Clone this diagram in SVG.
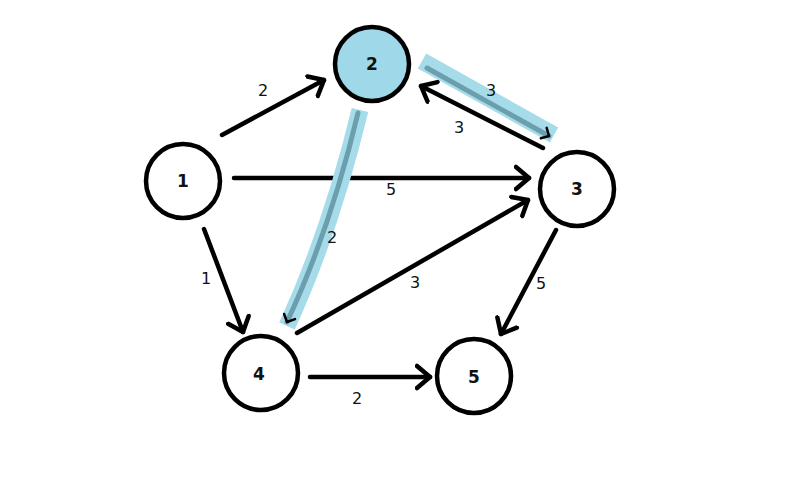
<svg xmlns="http://www.w3.org/2000/svg" width="800" height="500" viewBox="0 0 800 500">
<style>
.node{fill:#fff;stroke:#000;stroke-width:4.5}
.hl{fill:#9fd8e8}
.edge{fill:none;stroke:#000;stroke-width:4.5;stroke-linecap:round}
.band{fill:none;stroke:#a6dbea;stroke-width:17;stroke-linecap:butt}
.core{fill:none;stroke:#6c9fae;stroke-width:5;stroke-linecap:round}
.nl{font-family:"DejaVu Sans",sans-serif;font-size:17px;font-weight:bold;fill:#111;text-anchor:middle}
.el{font-family:"DejaVu Sans",sans-serif;font-size:16px;fill:#111;text-anchor:middle}
</style>
<defs>
<marker id="ah" markerUnits="userSpaceOnUse" markerWidth="30" markerHeight="30" refX="15" refY="15" orient="auto" viewBox="0 0 30 30">
<path d="M2 4 L15 15 L2 26" fill="none" stroke="#000" stroke-width="4.5" stroke-linecap="round" stroke-linejoin="round"/>
</marker>
<marker id="ahs" markerUnits="userSpaceOnUse" markerWidth="20" markerHeight="20" refX="10" refY="10" orient="auto" viewBox="0 0 20 20">
<path d="M4 4 L10 10 L4 16" fill="none" stroke="#000" stroke-width="2.5" stroke-linecap="round" stroke-linejoin="round"/>
</marker>
</defs>
<rect width="800" height="500" fill="#fff"/>
<g id="connectors">
<line class="edge" x1="222" y1="135" x2="324" y2="80" marker-end="url(#ah)"/>
<line class="edge" x1="234" y1="178" x2="529" y2="178" marker-end="url(#ah)"/>
<line class="edge" x1="204" y1="229" x2="243" y2="332" marker-end="url(#ah)"/>
<line class="edge" x1="543" y1="148" x2="421" y2="86" marker-end="url(#ah)"/>
<line class="edge" x1="297" y1="333" x2="528" y2="200" marker-end="url(#ah)"/>
<line class="edge" x1="556" y1="230" x2="501" y2="334" marker-end="url(#ah)"/>
<line class="edge" x1="310" y1="377" x2="430" y2="377" marker-end="url(#ah)"/>
<g id="highlight-2-3">
<line class="band" x1="422" y1="61" x2="554" y2="135"/>
<line class="core" x1="427" y1="68" x2="549" y2="136" marker-end="url(#ahs)"/>
</g>
<g id="highlight-2-4">
<path class="band" d="M360 110 Q 331 230, 287 326"/>
<path class="core" d="M358 113 Q 330 230, 287 322" marker-end="url(#ahs)"/>
</g>
<text class="el" x="263" y="96">2</text>
<text class="el" x="391" y="195">5</text>
<text class="el" x="206" y="284">1</text>
<text class="el" x="459" y="133">3</text>
<text class="el" x="491" y="96">3</text>
<text class="el" x="332" y="243">2</text>
<text class="el" x="415" y="288">3</text>
<text class="el" x="541" y="289">5</text>
<text class="el" x="357" y="404">2</text>
</g>
<g id="node1"><circle class="node" cx="183" cy="181" r="37"/><text class="nl" x="183" y="187">1</text></g>
<g id="node2"><circle class="node hl" cx="372" cy="64" r="37"/><text class="nl" x="372" y="70">2</text></g>
<g id="node3"><circle class="node" cx="577" cy="189" r="37"/><text class="nl" x="577" y="195">3</text></g>
<g id="node4"><circle class="node" cx="261" cy="373" r="37"/><text class="nl" x="259" y="380">4</text></g>
<g id="node5"><circle class="node" cx="474" cy="376" r="37"/><text class="nl" x="474" y="383">5</text></g>
</svg>
